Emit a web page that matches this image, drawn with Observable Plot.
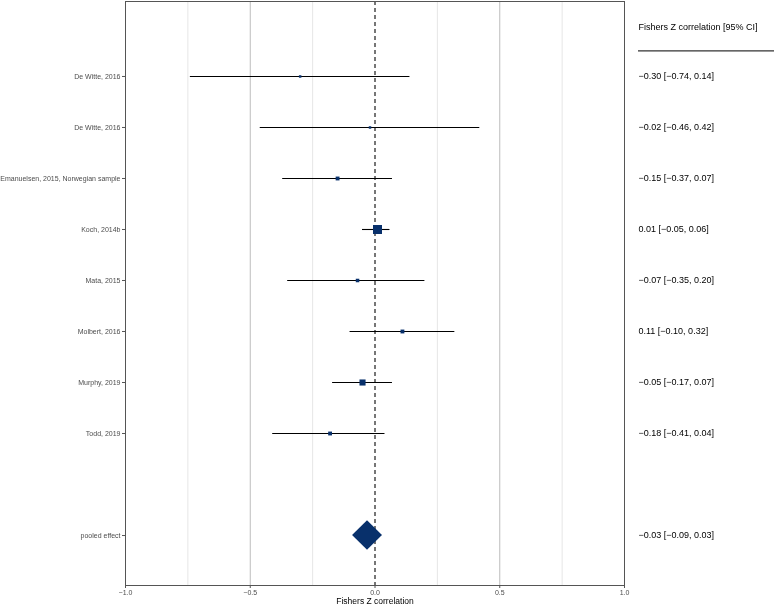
<!DOCTYPE html>
<html>
<head>
<meta charset="utf-8">
<script src="https://cdn.jsdelivr.net/npm/d3@7"></script>
<script src="https://cdn.jsdelivr.net/npm/@observablehq/plot@0.6"></script>
<style>
  body { margin: 0; background: #fff; }
  #wrap { display: flex; width: 774px; height: 607px; font-family: "Liberation Sans", Arial, sans-serif; }
  #wrap svg { will-change: transform; }
</style>
</head>
<body>
<div id="wrap"></div>
<script>
// ---- data ----
const studies = ["De Witte, 2016", "De Witte, 2016", "Emanuelsen, 2015, Norwegian sample", "Koch, 2014b", "Mata, 2015", "Molbert, 2016", "Murphy, 2019", "Todd, 2019"];
const estimates = [-0.30, -0.02, -0.15, 0.01, -0.07, 0.11, -0.05, -0.18];
const ciLower = [-0.74, -0.46, -0.37, -0.05, -0.35, -0.10, -0.17, -0.41];
const ciUpper = [0.14, 0.42, 0.07, 0.06, 0.20, 0.32, 0.07, 0.04];
const weights = [2.5, 2.5, 6, 33, 5, 6, 15, 6];
const pooledLabel = "pooled effect";
const pooledEstimate = -0.03;
const pooledLower = -0.09;
const pooledUpper = 0.03;
const xTicks = [-1, -0.5, 0, 0.5, 1];
const xMinorTicks = [-0.75, -0.25, 0.25, 0.75];
const headerText = "Fishers Z correlation [95% CI]";
const xTitle = "Fishers Z correlation";

// ---- derived table ----
const fmt2 = d3.format(".2f");
const rows = studies.map((s, i) => ({
  label: s, pos: i + 1, est: estimates[i], lo: ciLower[i], hi: ciUpper[i], w: weights[i],
  text: `${fmt2(estimates[i])} [${fmt2(ciLower[i])}, ${fmt2(ciUpper[i])}]`
}));
const pooledPos = 10;
const pooledText = `${fmt2(pooledEstimate)} [${fmt2(pooledLower)}, ${fmt2(pooledUpper)}]`;
const labelPositions = [...rows.map(r => r.pos), pooledPos];
const labelByPos = new Map([...rows.map(r => [r.pos, r.label]), [pooledPos, pooledLabel]]);
const dh = 0.29;
const diamond = [
  {y: pooledPos - dh, x1: pooledEstimate, x2: pooledEstimate},
  {y: pooledPos, x1: pooledLower, x2: pooledUpper},
  {y: pooledPos + dh, x1: pooledEstimate, x2: pooledEstimate}
];

const yScale = {domain: [-0.47, 10.98], reverse: true};
const font = "Liberation Sans, Arial, sans-serif";
const navy = "#08306b";

const main = Plot.plot({
  width: 630, height: 607,
  marginLeft: 125, marginRight: 6, marginTop: 1, marginBottom: 22,
  style: {fontFamily: font, background: "#fff"},
  x: {domain: [-1, 1]},
  y: yScale,
  r: {type: "sqrt", domain: [0, 33], range: [0, 5.1]},
  marks: [
    Plot.ruleX(xMinorTicks, {stroke: "#e6e6e6", strokeWidth: 1}),
    Plot.ruleX(xTicks.filter(d => d !== 0), {stroke: "#bdbdbd", strokeWidth: 1}),
    Plot.ruleX([0], {stroke: "#4a4a4a", strokeWidth: 1.5, strokeDasharray: "4,3"}),
    Plot.ruleY(rows, {y: "pos", x1: "lo", x2: "hi", stroke: "#000", strokeWidth: 1.1}),
    Plot.dot(rows, {x: "est", y: "pos", r: "w", symbol: "square", fill: navy, stroke: "none"}),
    Plot.areaX(diamond, {y: "y", x1: "x1", x2: "x2", fill: navy}),
    Plot.frame({stroke: "#555", strokeWidth: 1}),
    Plot.axisX({ticks: xTicks, tickFormat: d3.format(".1f"), tickSize: 3, tickPadding: 2, fontSize: 7, fill: "#4d4d4d", stroke: "#555", label: null}),
    Plot.axisY({ticks: labelPositions, tickFormat: d => labelByPos.get(d), tickSize: 3, tickPadding: 2, fontSize: 7, fill: "#4d4d4d", stroke: "#555", label: null}),
    Plot.text([xTitle], {frameAnchor: "bottom", dy: 18, fontSize: 8.5, fill: "#000"})
  ]
});

const side = Plot.plot({
  width: 144, height: 607,
  marginLeft: 8, marginRight: 0, marginTop: 1, marginBottom: 22,
  style: {fontFamily: font, background: "#fff"},
  x: {domain: [0, 1], axis: null},
  y: {...yScale, axis: null},
  marks: [
    Plot.text([headerText], {x: 0, y: 0.04, textAnchor: "start", fontSize: 9, fill: "#000"}),
    Plot.ruleY([0.5], {x1: 0, x2: 1, stroke: "#333", strokeWidth: 1.3}),
    Plot.text(rows, {x: 0, y: "pos", text: "text", textAnchor: "start", fontSize: 9, fill: "#000"}),
    Plot.text([pooledText], {x: 0, y: pooledPos, textAnchor: "start", fontSize: 9, fill: "#000"})
  ]
});

const wrap = document.getElementById("wrap");
wrap.appendChild(main);
wrap.appendChild(side);
</script>
</body>
</html>
